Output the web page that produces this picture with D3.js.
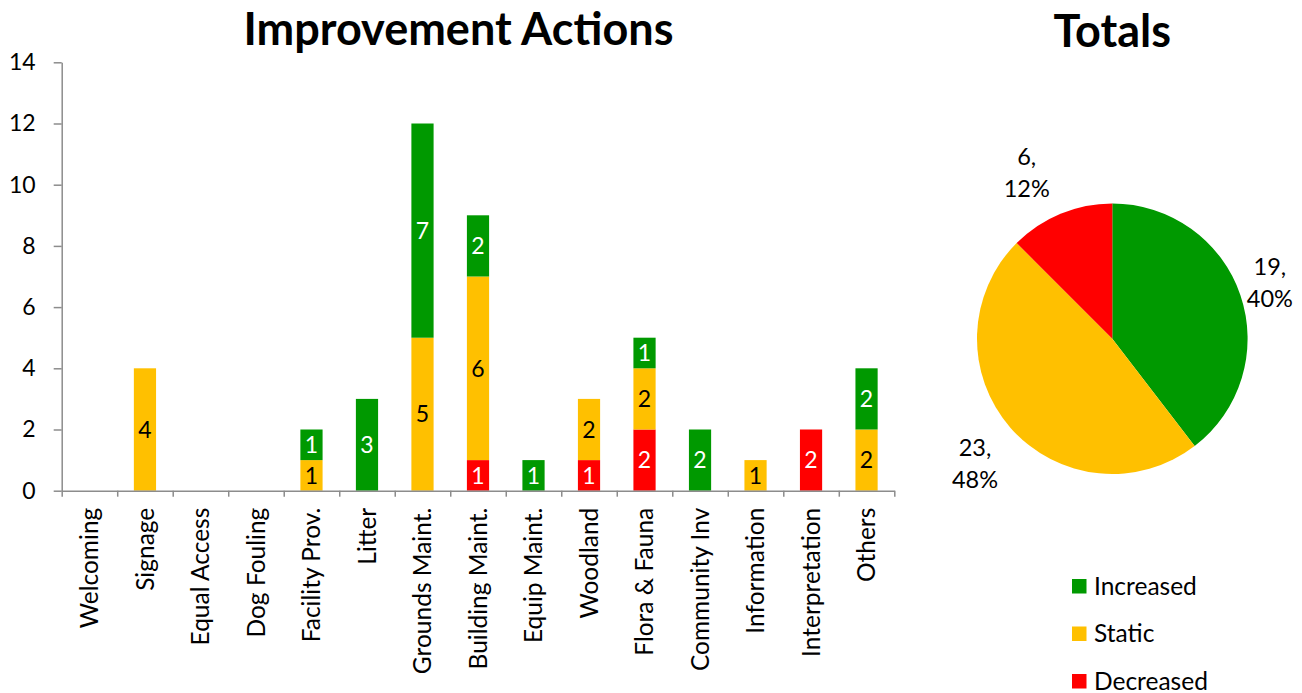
<!DOCTYPE html>
<html>
<head>
<meta charset="utf-8">
<script src="https://cdn.jsdelivr.net/npm/d3@7"></script>
<style>
html,body{margin:0;padding:0;background:#fff;}
svg{display:block;font-family:Lato,"Open Sans",sans-serif;}
</style>
</head>
<body>
<svg id="chart" width="1302" height="693"></svg>
<script>
// ---- data ----
const categories = ["Welcoming","Signage","Equal Access","Dog Fouling","Facility Prov.","Litter","Grounds Maint.","Building Maint.","Equip Maint.","Woodland","Flora & Fauna","Community Inv","Information","Interpretation","Others"];
const seriesNames = ["Decreased","Static","Increased"];
const decreased = [0,0,0,0,0,0,0,1,0,1,2,0,0,2,0];
const staticVals = [0,4,0,0,1,0,5,6,0,2,2,0,1,0,2];
const increased = [0,0,0,0,1,3,7,2,1,0,1,2,0,0,2];
const yTicks = [0,2,4,6,8,10,12,14];
const pieNames = ["Increased","Static","Decreased"];
const pieTotals = [19,23,6];
const legendNames = ["Increased","Static","Decreased"];

const colors = {Increased:"#009900", Static:"#FFC000", Decreased:"#FF0000"};
const labelColors = {Increased:"#ffffff", Static:"#000000", Decreased:"#ffffff"};

const svg = d3.select("#chart");
const axisColor = "#8c8c8c";

// ---- bar chart ----
const x0 = 61.7, x1 = 894.3, yTop = 62.3, yBot = 490.7;
const x = d3.scaleBand().domain(categories).range([x0,x1]).paddingInner(0.6).paddingOuter(0.3);
const xEdges = d3.scaleLinear().domain([0,categories.length]).range([x0,x1]);
const y = d3.scaleLinear().domain([0,14]).range([yBot,yTop]);

const table = categories.map((c,i)=>({cat:c, Decreased:decreased[i], Static:staticVals[i], Increased:increased[i]}));
const stacked = d3.stack().keys(seriesNames)(table);

const bars = svg.append("g");
stacked.forEach(layer=>{
  const key = layer.key;
  const g = bars.append("g");
  layer.forEach(d=>{
    const v = d[1]-d[0];
    if(v<=0) return;
    g.append("rect")
      .attr("x", x(d.data.cat)).attr("width", x.bandwidth())
      .attr("y", y(d[1])).attr("height", y(d[0])-y(d[1]))
      .attr("fill", colors[key]);
    g.append("text")
      .attr("x", x(d.data.cat)+x.bandwidth()/2)
      .attr("y", (y(d[0])+y(d[1]))/2)
      .attr("dy","0.36em")
      .attr("text-anchor","middle")
      .attr("font-size",23)
      .attr("fill", labelColors[key])
      .text(v);
  });
});

// y axis
const yAxis = svg.append("g").attr("transform",`translate(${x0},0)`)
  .call(d3.axisLeft(y).tickValues(yTicks).tickSize(8).tickPadding(18).tickSizeOuter(0));
yAxis.selectAll("text").attr("font-size",23).attr("fill","#000").attr("font-family","Lato");
yAxis.selectAll("line,path").attr("stroke",axisColor).attr("stroke-width",1.5);

// x axis ticks at boundaries
const xAxisTicks = svg.append("g").attr("transform",`translate(0,${yBot})`)
  .call(d3.axisBottom(xEdges).ticks(categories.length).tickSize(6).tickSizeOuter(0).tickFormat(""));
xAxisTicks.selectAll("line,path").attr("stroke",axisColor).attr("stroke-width",1.5);

// x labels
const xLab = svg.append("g").attr("transform",`translate(0,${yBot})`)
  .call(d3.axisBottom(x).tickSize(0).tickPadding(0));
xLab.select(".domain").remove();
xLab.selectAll("text")
  .attr("font-size",24.5).attr("fill","#000").attr("font-family","Lato")
  .attr("text-anchor","end")
  .attr("transform","rotate(-90)")
  .attr("x",-17).attr("y",0).attr("dy","0.36em");

// title
svg.append("text").attr("x",458.5).attr("y",45).attr("text-anchor","middle")
  .attr("font-size",45).attr("font-weight","bold").text("Improvement Actions");

// ---- pie ----
const cx = 1112.3, cy = 338.7, R = 135.3;
svg.append("text").attr("x",cx).attr("y",46.5).attr("text-anchor","middle")
  .attr("font-size",45).attr("font-weight","bold").text("Totals");

const total = d3.sum(pieTotals);
// largest-remainder rounding so percentages sum to 100
const raw = pieTotals.map(v=>v/total*100);
const pct = raw.map(Math.floor);
let rest = 100 - d3.sum(pct);
raw.map((r,i)=>({i, f:r-Math.floor(r)})).sort((a,b)=>b.f-a.f).slice(0,rest).forEach(o=>pct[o.i]++);

const pieData = d3.pie().sort(null).value(d=>d.v)(pieNames.map((n,i)=>({n, v:pieTotals[i], p:pct[i]})));
const arc = d3.arc().innerRadius(0).outerRadius(R);
const pg = svg.append("g").attr("transform",`translate(${cx},${cy})`);
pg.selectAll("path").data(pieData).join("path")
  .attr("d",arc).attr("fill",d=>colors[d.data.n]);
const labelArc = d3.arc().innerRadius(178).outerRadius(178);
const labelNudge = [[-11,2.5],[-3.5,9],[-17.5,0]];
pieData.forEach((d,i)=>{
  const [cxl,cyl] = labelArc.centroid(d);
  const lx = cxl + labelNudge[i][0], ly = cyl + labelNudge[i][1];
  const t = pg.append("text").attr("text-anchor","middle").attr("font-size",23.5);
  t.append("tspan").attr("x",lx).attr("y",ly-9).text(d.data.v+",");
  t.append("tspan").attr("x",lx).attr("y",ly+23).text(d.data.p+"%");
});

// legend
const leg = svg.append("g");
legendNames.forEach((n,i)=>{
  const gy = 579 + i*47.5;
  leg.append("rect").attr("x",1072).attr("y",gy).attr("width",14.5).attr("height",14.5).attr("fill",colors[n]);
  leg.append("text").attr("x",1094).attr("y",gy+15.5).attr("font-size",24.5).attr("fill","#000").text(n);
});
</script>
</body>
</html>
